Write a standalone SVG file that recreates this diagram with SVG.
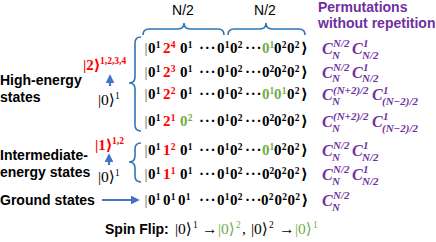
<svg xmlns="http://www.w3.org/2000/svg" width="436" height="242" viewBox="0 0 436 242">
<defs>
<style>
.lbl{font-family:"Liberation Sans",Arial,sans-serif;font-weight:bold;font-size:14px;fill:#000}
.hdr{font-family:"Liberation Sans",Arial,sans-serif;font-weight:bold;font-size:14px;fill:#7030a0}
.nh{font-family:"Liberation Sans",Arial,sans-serif;font-size:14px;fill:#000}
.k{font-family:"Liberation Serif","DejaVu Serif","DejaVu Sans",serif;font-weight:bold;font-size:15px;fill:#000}
.kn{font-family:"Liberation Serif","DejaVu Serif","DejaVu Sans",serif;font-size:15.5px;fill:#000}
.s{font-size:9.5px}
.e{letter-spacing:0.8px}
.r{fill:#ff0000}
.g{fill:#70ad47}
.b{fill:#555;font-weight:normal}
.f{font-family:"Liberation Serif","DejaVu Serif",serif;font-weight:bold;font-style:italic;font-size:16px;fill:#7030a0}
.fs{font-size:11px}
.brace{fill:none;stroke:#2e75b6;stroke-width:1.6}
.arr{stroke:#4472c4;stroke-width:2.2;fill:none}
</style>
<marker id="ah" viewBox="0 0 10 10" refX="8" refY="5" markerWidth="4" markerHeight="4" orient="auto" markerUnits="strokeWidth">
<path d="M0,0 L10,5 L0,10 z" fill="#4472c4"/>
</marker>
</defs>

<g id="header">
<text class="nh" x="183" y="15" text-anchor="middle">N/2</text>
<text class="nh" x="265" y="15" text-anchor="middle">N/2</text>
<text class="hdr" x="318" y="12">Permutations</text>
<text class="hdr" x="318" y="28">without repetition</text>
</g>

<g id="labels">
<text class="lbl" x="0" y="85">High-energy</text>
<text class="lbl" x="0" y="102">states</text>
<text class="lbl" x="0" y="160">Intermediate-</text>
<text class="lbl" x="0" y="177">energy states</text>
<text class="lbl" x="0" y="205">Ground states</text>
</g>

<g id="level-high">
<text class="k r" x="83" y="70">|2⟩<tspan class="s" x="100" y="64">1,2,3,4</tspan></text>
<text class="kn" x="98" y="105">|0⟩<tspan class="s" x="115" y="99">1</tspan></text>
</g>
<g id="level-mid">
<text class="k r" x="95" y="150">|1⟩<tspan class="s" x="112" y="144">1,2</tspan></text>
<text class="kn" x="98" y="182">|0⟩<tspan class="s" x="115" y="176">1</tspan></text>
</g>

<g id="row1">
<text class="k" y="53"><tspan class="b" x="144.5">|</tspan><tspan x="148">0</tspan><tspan class="s" x="155.7" y="47.5">1</tspan><tspan class="r" x="163" y="53">2</tspan><tspan class="s r" x="170.7" y="47.5">4</tspan><tspan x="180" y="53">0</tspan><tspan class="s" x="187.7" y="47.5">1</tspan><tspan class="e" x="199" y="53">···</tspan><tspan x="217">0</tspan><tspan class="s" x="224.7" y="47.5">1</tspan><tspan x="230" y="53">0</tspan><tspan class="s" x="237.7" y="47.5">2</tspan><tspan class="e" x="245" y="53">···</tspan><tspan class="g" x="262">0</tspan><tspan class="s g" x="269.5" y="47.5">1</tspan><tspan x="274" y="53">0</tspan><tspan class="s" x="281.7" y="47.5">2</tspan><tspan x="287" y="53">0</tspan><tspan class="s" x="294.7" y="47.5">2</tspan><tspan x="301" y="53">⟩</tspan></text>
</g>
<g id="row2">
<text class="k" y="77"><tspan class="b" x="144.5">|</tspan><tspan x="148">0</tspan><tspan class="s" x="155.7" y="71.5">1</tspan><tspan class="r" x="163" y="77">2</tspan><tspan class="s r" x="170.7" y="71.5">3</tspan><tspan x="180" y="77">0</tspan><tspan class="s" x="187.7" y="71.5">1</tspan><tspan class="e" x="199" y="77">···</tspan><tspan x="217">0</tspan><tspan class="s" x="224.7" y="71.5">1</tspan><tspan x="230" y="77">0</tspan><tspan class="s" x="237.7" y="71.5">2</tspan><tspan class="e" x="245" y="77">···</tspan><tspan x="262">0</tspan><tspan class="s" x="269.5" y="71.5">2</tspan><tspan x="274" y="77">0</tspan><tspan class="s" x="281.7" y="71.5">2</tspan><tspan x="287" y="77">0</tspan><tspan class="s" x="294.7" y="71.5">2</tspan><tspan x="301" y="77">⟩</tspan></text>
</g>
<g id="row3">
<text class="k" y="99"><tspan class="b" x="144.5">|</tspan><tspan x="148">0</tspan><tspan class="s" x="155.7" y="93.5">1</tspan><tspan class="r" x="163" y="99">2</tspan><tspan class="s r" x="170.7" y="93.5">2</tspan><tspan x="180" y="99">0</tspan><tspan class="s" x="187.7" y="93.5">1</tspan><tspan class="e" x="199" y="99">···</tspan><tspan x="217">0</tspan><tspan class="s" x="224.7" y="93.5">1</tspan><tspan x="230" y="99">0</tspan><tspan class="s" x="237.7" y="93.5">2</tspan><tspan class="e" x="245" y="99">···</tspan><tspan class="g" x="262">0</tspan><tspan class="s g" x="269.5" y="93.5">1</tspan><tspan class="g" x="274" y="99">0</tspan><tspan class="s g" x="281.7" y="93.5">1</tspan><tspan x="287" y="99">0</tspan><tspan class="s" x="294.7" y="93.5">2</tspan><tspan x="301" y="99">⟩</tspan></text>
</g>
<g id="row4">
<text class="k" y="126"><tspan class="b" x="144.5">|</tspan><tspan x="148">0</tspan><tspan class="s" x="155.7" y="120.5">1</tspan><tspan class="r" x="163" y="126">2</tspan><tspan class="s r" x="170.7" y="120.5">1</tspan><tspan class="g" x="180" y="126">0</tspan><tspan class="s g" x="187.7" y="120.5">2</tspan><tspan class="e" x="199" y="126">···</tspan><tspan x="217">0</tspan><tspan class="s" x="224.7" y="120.5">1</tspan><tspan x="230" y="126">0</tspan><tspan class="s" x="237.7" y="120.5">2</tspan><tspan class="e" x="245" y="126">···</tspan><tspan x="262">0</tspan><tspan class="s" x="269.5" y="120.5">2</tspan><tspan x="274" y="126">0</tspan><tspan class="s" x="281.7" y="120.5">2</tspan><tspan x="287" y="126">0</tspan><tspan class="s" x="294.7" y="120.5">2</tspan><tspan x="301" y="126">⟩</tspan></text>
</g>
<g id="row5">
<text class="k" y="155"><tspan class="b" x="144.5">|</tspan><tspan x="148">0</tspan><tspan class="s" x="155.7" y="149.5">1</tspan><tspan class="r" x="163" y="155">1</tspan><tspan class="s r" x="170.7" y="149.5">2</tspan><tspan x="180" y="155">0</tspan><tspan class="s" x="187.7" y="149.5">1</tspan><tspan class="e" x="199" y="155">···</tspan><tspan x="217">0</tspan><tspan class="s" x="224.7" y="149.5">1</tspan><tspan x="230" y="155">0</tspan><tspan class="s" x="237.7" y="149.5">2</tspan><tspan class="e" x="245" y="155">···</tspan><tspan class="g" x="262">0</tspan><tspan class="s g" x="269.5" y="149.5">1</tspan><tspan x="274" y="155">0</tspan><tspan class="s" x="281.7" y="149.5">2</tspan><tspan x="287" y="155">0</tspan><tspan class="s" x="294.7" y="149.5">2</tspan><tspan x="301" y="155">⟩</tspan></text>
</g>
<g id="row6">
<text class="k" y="179"><tspan class="b" x="144.5">|</tspan><tspan x="148">0</tspan><tspan class="s" x="155.7" y="173.5">1</tspan><tspan class="r" x="163" y="179">1</tspan><tspan class="s r" x="170.7" y="173.5">1</tspan><tspan x="180" y="179">0</tspan><tspan class="s" x="187.7" y="173.5">1</tspan><tspan class="e" x="199" y="179">···</tspan><tspan x="217">0</tspan><tspan class="s" x="224.7" y="173.5">1</tspan><tspan x="230" y="179">0</tspan><tspan class="s" x="237.7" y="173.5">2</tspan><tspan class="e" x="245" y="179">···</tspan><tspan x="262">0</tspan><tspan class="s" x="269.5" y="173.5">2</tspan><tspan x="274" y="179">0</tspan><tspan class="s" x="281.7" y="173.5">2</tspan><tspan x="287" y="179">0</tspan><tspan class="s" x="294.7" y="173.5">2</tspan><tspan x="301" y="179">⟩</tspan></text>
</g>
<g id="row-ground">
<text class="k" y="205"><tspan class="b" x="144.5">|</tspan><tspan x="148">0</tspan><tspan class="s" x="155.7" y="199.5">1</tspan><tspan x="163" y="205">0</tspan><tspan class="s" x="170.7" y="199.5">1</tspan><tspan x="178" y="205">0</tspan><tspan class="s" x="185.7" y="199.5">1</tspan><tspan class="e" x="199" y="205">···</tspan><tspan x="217">0</tspan><tspan class="s" x="224.7" y="199.5">1</tspan><tspan x="230" y="205">0</tspan><tspan class="s" x="237.7" y="199.5">2</tspan><tspan class="e" x="245" y="205">···</tspan><tspan x="261">0</tspan><tspan class="s" x="268.7" y="199.5">2</tspan><tspan x="274.5" y="205">0</tspan><tspan class="s" x="282.2" y="199.5">2</tspan><tspan x="287.5" y="205">0</tspan><tspan class="s" x="295.2" y="199.5">2</tspan><tspan x="301.5" y="205">⟩</tspan></text>
</g>

<g id="formulas">
<text class="f" x="322" y="54">C<tspan class="fs" x="333" y="46.5">N/2</tspan><tspan class="fs" x="332" y="59">N</tspan><tspan x="352" y="54">C</tspan><tspan class="fs" x="363" y="46.5">1</tspan><tspan class="fs" x="362" y="59">N/2</tspan></text>
<text class="f" x="322" y="78">C<tspan class="fs" x="333" y="70.5">N/2</tspan><tspan class="fs" x="332" y="81.5">N</tspan><tspan x="352" y="78">C</tspan><tspan class="fs" x="363" y="70.5">1</tspan><tspan class="fs" x="362" y="81.5">N/2</tspan></text>
<text class="f" x="322" y="100">C<tspan class="fs" x="333" y="94">(N+2)/2</tspan><tspan class="fs" x="332" y="105">N</tspan><tspan x="372" y="100">C</tspan><tspan class="fs" x="383" y="94">1</tspan><tspan class="fs" x="382" y="105">(N−2)/2</tspan></text>
<text class="f" x="322" y="127">C<tspan class="fs" x="333" y="119.5">(N+2)/2</tspan><tspan class="fs" x="332" y="132">N</tspan><tspan x="372" y="127">C</tspan><tspan class="fs" x="383" y="119.5">1</tspan><tspan class="fs" x="382" y="132">(N−2)/2</tspan></text>
<text class="f" x="322" y="156">C<tspan class="fs" x="333" y="148.5">N/2</tspan><tspan class="fs" x="332" y="161">N</tspan><tspan x="352" y="156">C</tspan><tspan class="fs" x="363" y="148.5">1</tspan><tspan class="fs" x="362" y="161">N/2</tspan></text>
<text class="f" x="322" y="180">C<tspan class="fs" x="333" y="172.5">N/2</tspan><tspan class="fs" x="332" y="185">N</tspan><tspan x="352" y="180">C</tspan><tspan class="fs" x="363" y="172.5">1</tspan><tspan class="fs" x="362" y="185">N/2</tspan></text>
<text class="f" x="322" y="206">C<tspan class="fs" x="333" y="198.5">N/2</tspan><tspan class="fs" x="332" y="211">N</tspan></text>
</g>

<g id="spin-flip">
<text class="lbl" x="105" y="234">Spin Flip:</text>
<text class="kn" y="234"><tspan x="175">|0⟩</tspan><tspan class="s" x="193" y="228">1</tspan><tspan x="202" y="234">→</tspan><tspan class="g" x="218">|0⟩</tspan><tspan class="s g" x="236" y="228">2</tspan><tspan x="242" y="234">,</tspan><tspan x="251">|0⟩</tspan><tspan class="s" x="269" y="228">2</tspan><tspan x="279" y="234">→</tspan><tspan class="g" x="295">|0⟩</tspan><tspan class="s g" x="313" y="228">1</tspan></text>
</g>

<g id="connectors">
<path class="brace" d="M143,35 Q143,29 149,29 L178,29 Q184,29 184,23 Q184,29 190,29 L218,29 Q224,29 224,35"/>
<path class="brace" d="M228,35 Q228,29 234,29 L260,29 Q266,29 266,23 Q266,29 272,29 L299,29 Q305,29 305,35"/>
<path class="brace" d="M141,37 Q135,37 135,43 L135,77 Q135,83 129,83 Q135,83 135,89 L135,125 Q135,131 141,131"/>
<path class="brace" d="M141,143 Q135,143 135,149 L135,156 Q135,162 129,162 Q135,162 135,168 L135,176 Q135,182 141,182"/>
<line class="arr" x1="110" y1="86" x2="110" y2="76" marker-end="url(#ah)"/>
<line class="arr" x1="109" y1="165" x2="109" y2="155" marker-end="url(#ah)"/>
<line class="arr" x1="102" y1="200" x2="138" y2="200" marker-end="url(#ah)"/>
</g>
</svg>
